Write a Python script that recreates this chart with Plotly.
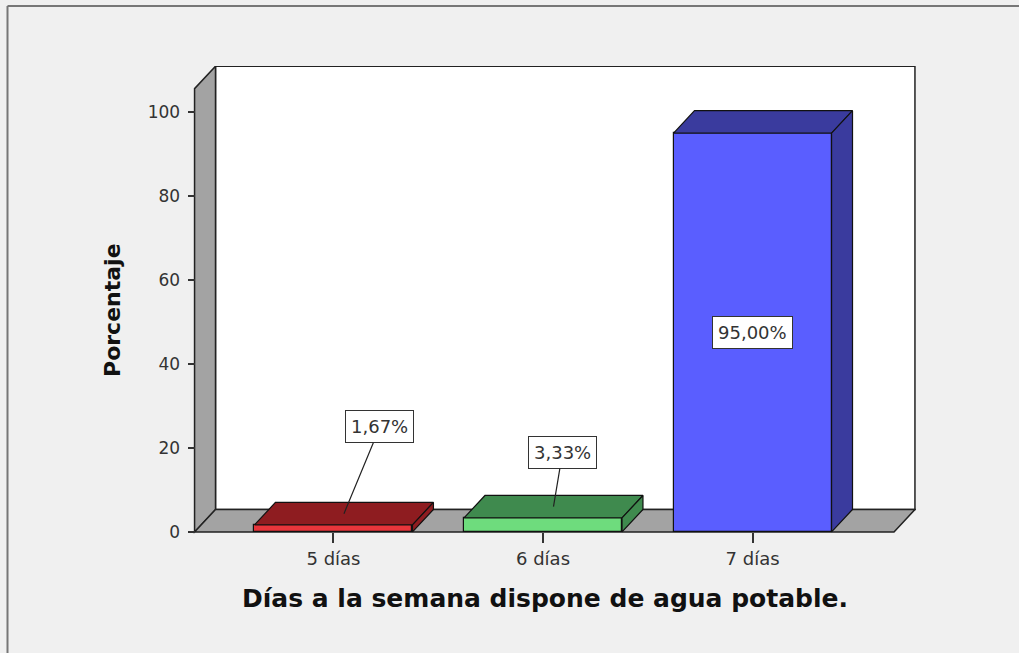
import plotly.graph_objects as go

# ---- data ----
categories = ["5 días", "6 días", "7 días"]
percentages = [1.67, 3.33, 95.00]
value_labels = ["1,67%", "3,33%", "95,00%"]
y_tick_values = [0, 20, 40, 60, 80, 100]
x_title = "Días a la semana dispone de agua potable."
y_title = "Porcentaje"

front_colors = ["#e8353b", "#6edc7d", "#5a5eff"]
dark_colors = ["#8e1c20", "#3f8a4e", "#3a3b9e"]

# ---- geometry / style constants ----
FONT = "DejaVu Sans"
TXT = "#333333"
BAR_W = 0.754
DX, DY = 0.10, 5.35          # 3-D depth offset in data units
X0, X1 = -0.663, 2.675       # floor front edge extent
Y_WALL = 105.6               # front top of the left wall
XR = [-0.68, 2.78]
YR = [-0.5, 111.0]

xs = list(range(len(categories)))

fig = go.Figure()

# front faces of the bars
fig.add_trace(go.Bar(
    x=xs, y=percentages, width=BAR_W,
    marker=dict(color=front_colors, line=dict(color="#111111", width=1.2)),
    hoverinfo="skip", showlegend=False,
))

# top and side faces computed from the values
for i, v in zip(xs, percentages):
    xl, xr = i - BAR_W / 2, i + BAR_W / 2
    fig.add_trace(go.Scatter(
        x=[xl, xl + DX, xr + DX, xr, xl],
        y=[v, v + DY, v + DY, v, v],
        mode="lines", fill="toself", fillcolor=dark_colors[i],
        line=dict(color="#111111", width=1.2),
        hoverinfo="skip", showlegend=False,
    ))
    fig.add_trace(go.Scatter(
        x=[xr, xr, xr + DX, xr + DX, xr],
        y=[0, v, v + DY, DY, 0],
        mode="lines", fill="toself", fillcolor=dark_colors[i],
        line=dict(color="#111111", width=1.2),
        hoverinfo="skip", showlegend=False,
    ))

shapes = []
edge = dict(color="#222222", width=1.5)
# back wall
shapes.append(dict(type="rect", xref="x", yref="y", layer="below",
                   x0=X0 + DX, x1=X1 + DX, y0=DY, y1=Y_WALL + DY,
                   fillcolor="white", line=edge))
# left wall
shapes.append(dict(type="path", xref="x", yref="y", layer="below",
                   path=f"M{X0},0 L{X0},{Y_WALL} L{X0+DX},{Y_WALL+DY} L{X0+DX},{DY} Z",
                   fillcolor="#a3a3a3", line=edge))
# floor
shapes.append(dict(type="path", xref="x", yref="y", layer="below",
                   path=f"M{X0},0 L{X1},0 L{X1+DX},{DY} L{X0+DX},{DY} Z",
                   fillcolor="#a3a3a3", line=edge))
# outer frame of the viewer
frame = dict(color="#777777", width=2)
shapes.append(dict(type="line", xref="paper", yref="paper",
                   x0=-0.2531, x1=1.2, y0=1.1282, y1=1.1282, line=frame))
shapes.append(dict(type="line", xref="paper", yref="paper",
                   x0=-0.2531, x1=-0.2531, y0=1.1282, y1=-0.3, line=frame))

annotations = []
# value labels
arrow_offsets = [(36, -87), (9, -54)]
for i, (v, lab) in enumerate(zip(percentages, value_labels)):
    box = dict(bgcolor="white", bordercolor="#333333", borderwidth=1, borderpad=5,
               font=dict(family=FONT, size=18, color=TXT))
    if v < 20:
        ax, ay = arrow_offsets[i]
        annotations.append(dict(x=i + DX / 2, y=v + DY / 2, xref="x", yref="y",
                                text=lab, showarrow=True, arrowhead=0,
                                arrowwidth=1.2, arrowcolor="#222222",
                                ax=ax, ay=ay, standoff=0, **box))
    else:
        annotations.append(dict(x=i, y=v / 2, xref="x", yref="y",
                                text=lab, showarrow=False, **box))

annotations.append(dict(text=f"<b>{y_title}</b>", xref="paper", yref="paper",
                        x=-0.109, y=0.4786, xanchor="center", yanchor="middle",
                        showarrow=False, textangle=-90,
                        font=dict(family=FONT, size=22, color="#111111")))
annotations.append(dict(text=f"<b>{x_title}</b>", xref="paper", yref="paper",
                        x=0.4883, y=-0.1368, xanchor="center", yanchor="middle",
                        showarrow=False,
                        font=dict(family=FONT, size=25, color="#111111")))

fig.update_layout(
    width=1019, height=653, autosize=False,
    margin=dict(l=191, r=103, t=66, b=119, pad=0),
    paper_bgcolor="#f0f0f0", plot_bgcolor="#f0f0f0",
    bargap=0, showlegend=False,
    shapes=shapes, annotations=annotations,
    xaxis=dict(range=XR, tickvals=xs, ticktext=categories,
               showgrid=False, zeroline=False, showline=False,
               ticks="outside", ticklen=10, tickwidth=1.5, tickcolor="#333333",
               anchor="free", position=(0 - YR[0]) / (YR[1] - YR[0]),
               tickfont=dict(family=FONT, size=18, color=TXT)),
    yaxis=dict(range=YR, tickvals=y_tick_values,
               showgrid=False, zeroline=False, showline=False,
               ticks="outside", ticklen=7, tickwidth=1.5, tickcolor="#333333",
               anchor="free", position=(X0 - XR[0]) / (XR[1] - XR[0]),
               ticklabelstandoff=4,
               tickfont=dict(family=FONT, size=17, color=TXT)),
)

fig.write_html("out.html")
